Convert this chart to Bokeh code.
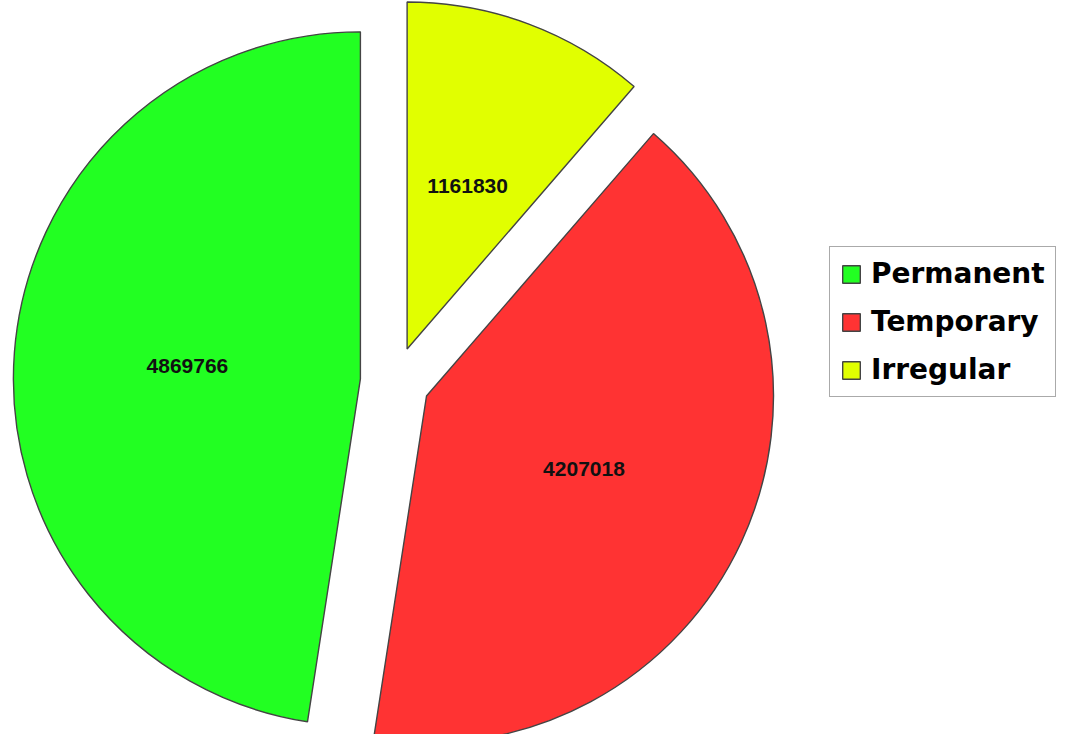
import math
from bokeh.plotting import figure
from bokeh.models import ColumnDataSource, Range1d, Legend, LegendItem
from bokeh.core.properties import value
from bokeh.embed import file_html
from bokeh.resources import INLINE

categories = ["Irregular", "Temporary", "Permanent"]
values = [1161830, 4207018, 4869766]
colors = ["#E1FF00", "#FF3333", "#22FF22"]
legend_order = ["Permanent", "Temporary", "Irregular"]

W, H = 1058, 734
R = 1.0
px = 347.0          # pixels per data unit
cx_px, cy_px = 394.5, 381.0
explode = 0.10

total = float(sum(values))
starts, ends, xs, ys, lx, ly, labels = [], [], [], [], [], [], []
cum = 0.0
for v in values:
    s_cw = cum / total * 360.0
    cum += v
    e_cw = cum / total * 360.0
    mid = math.radians(90.0 - (s_cw + e_cw) / 2.0)
    ox, oy = explode * math.cos(mid), explode * math.sin(mid)
    starts.append(math.radians(90.0 - e_cw))
    ends.append(math.radians(90.0 - s_cw))
    xs.append(ox)
    ys.append(oy)
    lx.append(ox + 0.5 * R * math.cos(mid))
    ly.append(oy + 0.5 * R * math.sin(mid))
    labels.append(str(v))

src = ColumnDataSource(dict(x=xs, y=ys, start=starts, end=ends, color=colors,
                            cat=categories, lx=lx, ly=ly, label=labels))

p = figure(width=W, height=H, output_backend="svg", toolbar_location=None,
           x_range=Range1d(-cx_px / px, (W - cx_px) / px),
           y_range=Range1d(-(H - cy_px) / px, cy_px / px),
           min_border=0, outline_line_color=None)
p.axis.visible = False
p.grid.visible = False

r = p.wedge(x="x", y="y", radius=R, start_angle="start", end_angle="end",
            fill_color="color", line_color="#444444", line_width=1.4, source=src)

p.text(x="lx", y="ly", text="label", source=src, text_align="center",
       text_baseline="middle", text_font=value("Liberation Sans"),
       text_font_style="bold", text_font_size="21px", text_color="#111111")

items = [LegendItem(label=name, renderers=[r], index=categories.index(name))
         for name in legend_order]
legend = Legend(items=items, location=(829, H - 397), orientation="vertical",
                label_text_font="DejaVu Sans", label_text_font_style="bold",
                label_text_font_size="28px", label_text_color="#000000",
                glyph_width=22, glyph_height=22, label_height=30,
                label_standoff=9, spacing=15, padding=10, margin=0,
                border_line_color="#555555", border_line_width=1.5,
                background_fill_color="white", background_fill_alpha=1.0)
p.add_layout(legend)

open("out.html", "w").write(file_html(p, INLINE))
